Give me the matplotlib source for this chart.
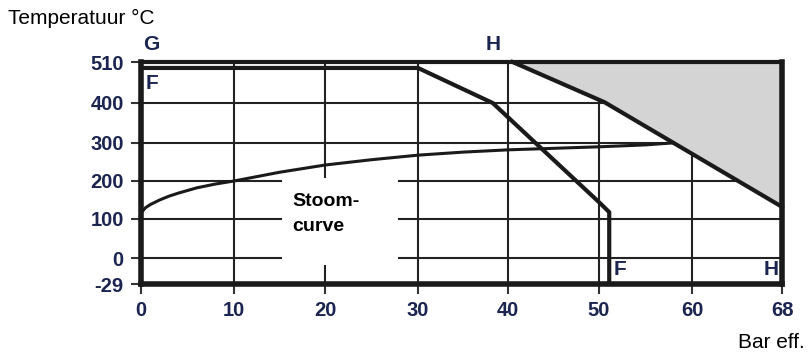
import numpy as np
import matplotlib.pyplot as plt
from matplotlib.patches import Rectangle, Polygon

plt.rcParams['font.family'] = ['Liberation Sans', 'DejaVu Sans']
plt.rcParams['axes.unicode_minus'] = False

# ticks
x_ticks = [0, 10, 20, 30, 40, 50, 60, 68]
y_ticks = [-29, 0, 100, 200, 300, 400, 510]

# F limit line (bar eff., deg C)
f_x = [0, 30, 38.3, 50.1, 51.1, 51.1]
f_y = [494, 494, 400, 142, 118, -29]

# H limit line, region above it is shaded
h_x = [40.5, 50.6, 68]
h_y = [510, 402, 132]

# steam saturation curve
steam_x = [0, 0.5, 1, 2, 3, 4, 6, 8, 10, 15, 20, 25, 30, 35, 40, 45, 50, 55, 57.8]
steam_y = [116, 130, 138, 150, 160, 168, 182, 192, 200, 223, 242, 256, 268, 276, 282, 286, 290, 295, 300]


def piecewise(vals, pos):
    # uneven tick spacing as in the original drawing
    vals = np.asarray(vals, float)
    pos = np.asarray(pos, float)

    def _map(v, a, b):
        v = np.asarray(v, float)
        out = np.interp(v, a, b)
        lo = a[0] + 0 * v > v
        hi = v > a[-1]
        out = np.where(lo, b[0] + (v - a[0]) * (b[1] - b[0]) / (a[1] - a[0]), out)
        out = np.where(hi, b[-1] + (v - a[-1]) * (b[-1] - b[-2]) / (a[-1] - a[-2]), out)
        return out

    return (lambda v: _map(v, vals, pos)), (lambda v: _map(v, pos, vals))


x_fwd, x_inv = piecewise(x_ticks, [0, 93, 184, 277, 367, 458, 551, 641])
y_fwd, y_inv = piecewise(y_ticks, [0, 26, 65, 103, 141, 181, 222])

fig = plt.figure(figsize=(8.08, 3.56), dpi=100)
ax = fig.add_axes([141 / 808, 1 - 284 / 356, 641 / 808, 222 / 356])
ax.set_xscale('function', functions=(x_fwd, x_inv))
ax.set_yscale('function', functions=(y_fwd, y_inv))
ax.set_xlim(0, 68)
ax.set_ylim(-29, 510)

ax.set_xticks(x_ticks)
ax.set_yticks(y_ticks)
ax.minorticks_off()
tick_color = '#1b2550'
ax.tick_params(length=7.5, width=1.5, pad=5, color='#333333', labelsize=14.5, labelcolor=tick_color)
for lab in ax.get_xticklabels() + ax.get_yticklabels():
    lab.set_fontweight('bold')
ax.set_axisbelow(True)
ax.grid(True, color='#222222', linewidth=1.5)

for s in ax.spines.values():
    s.set_linewidth(4)
    s.set_color('#1a1a1a')
ax.spines['top'].set_linewidth(3)

# shaded area above H line
shade = list(zip(h_x, h_y)) + [(68, 510), (h_x[0], 510)]
ax.add_patch(Polygon(shade, closed=True, facecolor='#d4d4d4', edgecolor='none', zorder=1))

# white box behind the label
ax.add_patch(Rectangle((15.3, -8), 12.5, 216, facecolor='white', edgecolor='none', zorder=1))

ax.plot(f_x, f_y, color='#1a1a1a', linewidth=3, zorder=3, clip_on=False)
ax.plot(h_x, h_y, color='#1a1a1a', linewidth=3, zorder=3, clip_on=False)
ax.plot(steam_x, steam_y, color='#1a1a1a', linewidth=2.2, zorder=3)

ax.text(16.4, 147, 'Stoom-', fontsize=14, fontweight='bold', va='center', ha='left', zorder=4)
ax.text(16.4, 82, 'curve', fontsize=14, fontweight='bold', va='center', ha='left', zorder=4)

letter_kw = dict(fontsize=15, fontweight='bold', color=tick_color, zorder=5)
top = ax.get_xaxis_transform()
ax.text(0.2, 1.077, 'G', ha='left', va='center', transform=top, clip_on=False, **letter_kw)
ax.text(38.3, 1.077, 'H', ha='center', va='center', transform=top, clip_on=False, **letter_kw)
ax.text(0.5, 452, 'F', ha='left', va='center', **letter_kw)
ax.text(51.6, -13, 'F', ha='left', va='center', **letter_kw)
ax.text(67.7, -13, 'H', ha='right', va='center', **letter_kw)

fig.text(8 / 808, 1 - 18 / 356, 'Temperatuur °C', fontsize=15, ha='left', va='center')
fig.text(805 / 808, 1 - 343 / 356, 'Bar eff.', fontsize=15, ha='right', va='center')

fig.savefig('out.png', dpi=100)
